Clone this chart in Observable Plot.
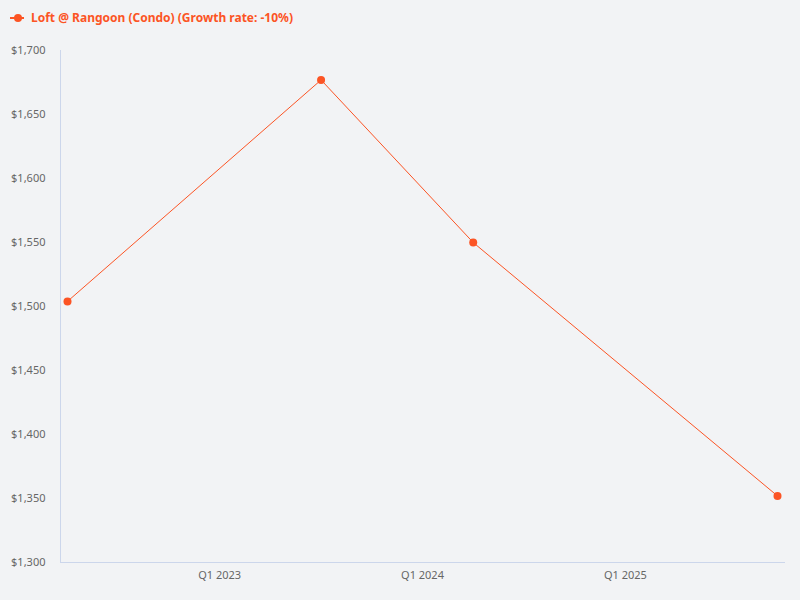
<!DOCTYPE html>
<html>
<head>
<meta charset="utf-8">
<script src="https://cdn.jsdelivr.net/npm/d3@7"></script>
<script src="https://cdn.jsdelivr.net/npm/@observablehq/plot@0.6"></script>
<style>
  html, body { margin: 0; padding: 0; background: #f2f3f5; font-family: "Noto Sans", "Open Sans", sans-serif; }
  #legend { height: 35px; position: relative; }
  #legend svg { position: absolute; left: 8px; top: 11px; }
  #legend span { position: absolute; left: 31px; top: 9px; font-size: 12px; font-weight: bold; color: #fc5424; }
</style>
</head>
<body>
<div id="legend">
  <svg width="20" height="14"><line x1="2" x2="16" y1="7" y2="7" stroke="#fc5424" stroke-width="2"></line><circle cx="10" cy="7" r="4" fill="#fc5424"></circle></svg>
  <span id="title"></span>
</div>
<div id="chart"></div>
<script>
const seriesName = "Loft @ Rangoon (Condo) (Growth rate: -10%)";
const periods = ["Q2 2022", "Q3 2023", "Q2 2024", "Q4 2025"];
const prices = [1504, 1677, 1550, 1352];
const xTicks = [2023, 2024, 2025];
const yTicks = [1300, 1350, 1400, 1450, 1500, 1550, 1600, 1650, 1700];

document.getElementById("title").textContent = seriesName;

function periodToNum(p) {
  const [q, y] = p.split(" ");
  return +y + (+q.slice(1) - 1) / 4;
}
const data = periods.map((p, i) => ({period: p, t: periodToNum(p), price: prices[i]}));
const color = "#fc5424";
const fmt = d3.format(",");

const chart = Plot.plot({
  width: 800,
  height: 565,
  marginTop: 15,
  marginBottom: 38,
  marginLeft: 60,
  marginRight: 15,
  style: {background: "transparent", fontFamily: "'Noto Sans', 'Open Sans', sans-serif", fontSize: "11px", color: "#666666"},
  x: {domain: [2022.25, 2025.75], insetLeft: 7, insetRight: 8, label: null},
  y: {domain: [1300, 1700], label: null},
  marks: [
    Plot.ruleY([1300], {stroke: "#ccd6eb", strokeWidth: 1}),
    Plot.ruleX([2022.25], {stroke: "#ccd6eb", strokeWidth: 1, dx: -7}),
    Plot.axisX({ticks: xTicks, tickFormat: d => "Q1 " + d, tickSize: 0, tickPadding: 9, fill: "#666666", fontSize: 11}),
    Plot.axisY({ticks: yTicks, tickFormat: d => "$" + fmt(d), tickSize: 0, tickPadding: 15, fill: "#666666", fontSize: 11}),
    Plot.line(data, {x: "t", y: "price", stroke: color, strokeWidth: 1}),
    Plot.dot(data, {x: "t", y: "price", r: 4, fill: color, stroke: "none"})
  ]
});
document.getElementById("chart").appendChild(chart);
</script>
</body>
</html>
